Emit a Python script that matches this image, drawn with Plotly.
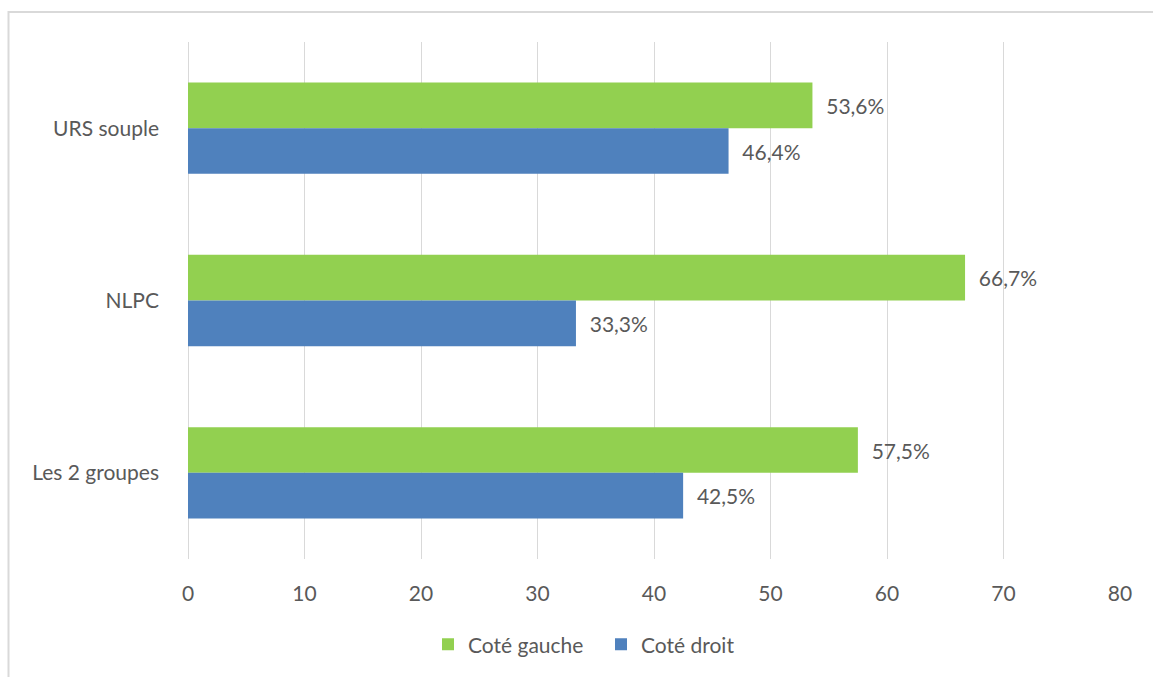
import plotly.graph_objects as go

categories = ["URS souple", "NLPC", "Les 2 groupes"]
cote_gauche = [53.6, 66.7, 57.5]
cote_droit = [46.4, 33.3, 42.5]
x_ticks = [0, 10, 20, 30, 40, 50, 60, 70, 80]

FONT = "Lato"
TXT = "#595959"
FS = 21
pad = "\u00a0\u00a0"

fig = go.Figure()
fig.add_trace(go.Bar(
    y=categories, x=cote_gauche, orientation="h", name="Coté gauche",
    marker=dict(color="#92D050", line=dict(width=0)),
    texttemplate=pad + "%{x:.1f}%", textposition="outside",
    textfont=dict(family=FONT, size=FS, color=TXT), cliponaxis=False,
))
fig.add_trace(go.Bar(
    y=categories, x=cote_droit, orientation="h", name="Coté droit",
    marker=dict(color="#4F81BD", line=dict(width=0)),
    texttemplate=pad + "%{x:.1f}%", textposition="outside",
    textfont=dict(family=FONT, size=FS, color=TXT), cliponaxis=False,
))

W, H = 1153, 677
L, R, T, B = 188, 1120, 42, 561

def px_to_paper_x(px):
    return (px - L) / (R - L)

def px_to_paper_y(py):
    return (B - py) / (B - T)

fig.update_layout(
    width=W, height=H,
    margin=dict(l=L, r=W - R, t=T, b=H - B),
    paper_bgcolor="white", plot_bgcolor="white",
    barmode="group", bargap=0.47, bargroupgap=0,
    separators=", ",
    font=dict(family=FONT, size=FS, color=TXT),
    showlegend=True,
    legend=dict(orientation="h", x=px_to_paper_x(601), xanchor="center",
                y=px_to_paper_y(647), yanchor="middle",
                font=dict(family=FONT, size=FS, color=TXT),
                itemwidth=30, entrywidth=128, entrywidthmode="pixels",
                bgcolor="rgba(0,0,0,0)"),
    xaxis=dict(range=[0, 80], tickvals=x_ticks, showgrid=True,
               gridcolor="#d9d9d9", gridwidth=1.3, zeroline=True,
               zerolinecolor="#d9d9d9", zerolinewidth=1.3, showline=False,
               ticks="", ticklabelstandoff=20,
               tickfont=dict(family=FONT, size=FS, color=TXT)),
    yaxis=dict(autorange="reversed", showgrid=False, showline=False,
               ticks="", ticklabelstandoff=28,
               tickfont=dict(family=FONT, size=FS, color=TXT)),
    shapes=[dict(type="rect", xref="paper", yref="paper",
                 x0=px_to_paper_x(8.5), x1=px_to_paper_x(1200),
                 y0=px_to_paper_y(720), y1=px_to_paper_y(12),
                 line=dict(color="#d9d9d9", width=2), fillcolor="rgba(0,0,0,0)",
                 layer="below")],
)

fig.write_html("out.html")
